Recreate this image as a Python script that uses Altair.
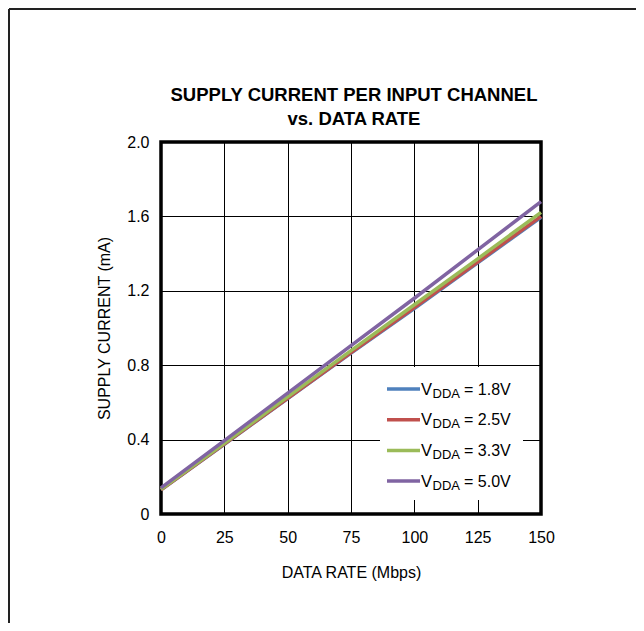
import altair as alt
import pandas as pd

# ---- data ----
rates = [0, 25, 50, 75, 100, 125, 150]
series_names = ["VDDA = 1.8V", "VDDA = 2.5V", "VDDA = 3.3V", "VDDA = 5.0V"]
legend_values = ["1.8V", "2.5V", "3.3V", "5.0V"]
i_18 = [0.130, 0.375, 0.620, 0.865, 1.105, 1.350, 1.595]
i_25 = [0.130, 0.376, 0.622, 0.868, 1.110, 1.355, 1.600]
i_33 = [0.133, 0.380, 0.630, 0.878, 1.125, 1.372, 1.622]
i_50 = [0.140, 0.395, 0.650, 0.905, 1.160, 1.420, 1.680]
colors = ["#4F81BD", "#C0504D", "#9BBB59", "#8064A2"]
x_ticks = [0, 25, 50, 75, 100, 125, 150]
y_ticks = [0, 0.4, 0.8, 1.2, 1.6, 2.0]
title_lines = ["SUPPLY CURRENT PER INPUT CHANNEL", "vs. DATA RATE"]

FONT = "Liberation Sans"

rows = []
for name, vals in zip(series_names, [i_18, i_25, i_33, i_50]):
    for r, v in zip(rates, vals):
        rows.append({"rate": r, "current": v, "series": name})
df = pd.DataFrame(rows)

W, H = 380, 372
PAD_L, PAD_T = 153, 134
TOTAL_W, TOTAL_H = 628, 615

lines = alt.Chart(df).mark_line(strokeWidth=3.5).encode(
    x=alt.X("rate:Q", scale=alt.Scale(domain=[0, 150], nice=False),
            axis=alt.Axis(values=x_ticks, title="DATA RATE  (Mbps)",
                          labelFlush=False, labelPadding=15, titlePadding=19)),
    y=alt.Y("current:Q", scale=alt.Scale(domain=[0, 2.0], nice=False),
            axis=alt.Axis(values=y_ticks, title="SUPPLY CURRENT  (mA)",
                          labelFlush=False,
                          labelExpr="datum.value == 0 ? '0' : format(datum.value, '.1f')",
                          labelPadding=12, titlePadding=14)),
    color=alt.Color("series:N", scale=alt.Scale(domain=series_names, range=colors),
                    legend=None),
    order=alt.Order("series:N"),
)

one = pd.DataFrame({"a": [0]})

# legend box (white, covering the gridlines)
legend_bg = alt.Chart(one).mark_rect(color="white").encode(
    x=alt.value(219), x2=alt.value(362), y=alt.value(225), y2=alt.value(358)
)

layers = [legend_bg, lines]
for i, (c, val) in enumerate(zip(colors, legend_values)):
    ly = 247 + 30.7 * i
    layers.append(alt.Chart(one).mark_rule(color=c, strokeWidth=3.5).encode(
        x=alt.value(226), x2=alt.value(259), y=alt.value(ly)))
    layers.append(alt.Chart(one).mark_text(text="V", align="left", baseline="alphabetic",
                                           font=FONT, fontSize=16.5, color="black").encode(
        x=alt.value(260), y=alt.value(ly + 5.5)))
    layers.append(alt.Chart(one).mark_text(text="DDA", align="left", baseline="alphabetic",
                                           font=FONT, fontSize=13, color="black").encode(
        x=alt.value(271.5), y=alt.value(ly + 8.5)))
    layers.append(alt.Chart(one).mark_text(text="= " + val, align="left", baseline="alphabetic",
                                           font=FONT, fontSize=16, color="black").encode(
        x=alt.value(303), y=alt.value(ly + 5.5)))

# chart title (two centred bold lines)
for k, t in enumerate(title_lines):
    layers.append(alt.Chart(one).mark_text(text=t, align="center", baseline="alphabetic",
                                           font=FONT, fontSize=18.5, fontWeight="bold",
                                           color="black").encode(
        x=alt.value(193), y=alt.value(-41.5 + 24 * k)))

# outer frame (top and left edges visible in the reference)
layers.append(alt.Chart(one).mark_rule(color="#222222", strokeWidth=2).encode(
    x=alt.value(-PAD_L + 1), x2=alt.value(TOTAL_W - PAD_L), y=alt.value(-PAD_T + 1)))
layers.append(alt.Chart(one).mark_rule(color="#222222", strokeWidth=2).encode(
    x=alt.value(-PAD_L + 1), y=alt.value(-PAD_T + 1), y2=alt.value(TOTAL_H - PAD_T)))

chart = alt.layer(*layers).properties(
    width=W, height=H,
    background="white",
    autosize=alt.AutoSizeParams(type="none"),
    padding={"left": PAD_L, "top": PAD_T, "right": TOTAL_W - PAD_L - W,
             "bottom": TOTAL_H - PAD_T - H},
).configure_view(
    stroke="black", strokeWidth=3.5,
).configure_axis(
    domain=False, ticks=False, grid=True, gridColor="black", gridWidth=1,
    labelFont=FONT, labelFontSize=16, labelColor="black",
    titleFont=FONT, titleFontSize=16, titleFontWeight="normal", titleColor="black",
)

chart.save("out.html", embed_options={"renderer": "svg", "actions": False})
